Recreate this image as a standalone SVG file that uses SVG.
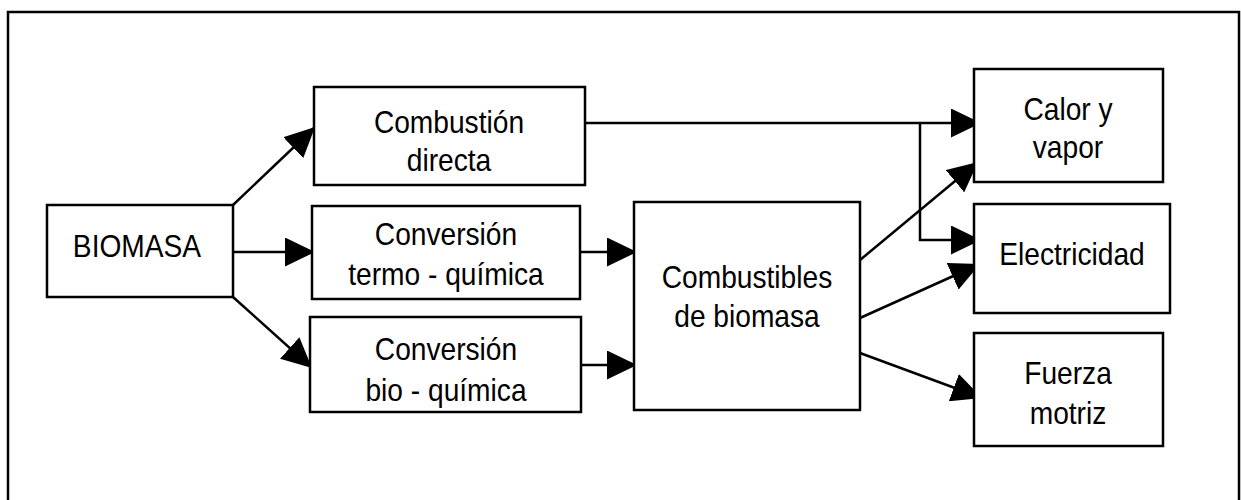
<svg xmlns="http://www.w3.org/2000/svg" width="1241" height="500" viewBox="0 0 1241 500">
  <style>
    .box { fill: #fff; stroke: #000; stroke-width: 2.5; }
    .lbl { font-family: "Liberation Sans", Arial, sans-serif; font-size: 32px; fill: #000; text-anchor: middle; }
    .con { fill: none; stroke: #000; stroke-width: 2.5; marker-end: url(#arr); }
  </style>
  <defs>
    <marker id="arr" viewBox="0 0 30 29" refX="30" refY="14.5" markerWidth="30" markerHeight="29" markerUnits="userSpaceOnUse" orient="auto">
      <path d="M0,0 L30,14.5 L0,29 z" fill="#000"/>
    </marker>
  </defs>
  <rect x="8" y="12" width="1231" height="500" fill="#fff" stroke="#000" stroke-width="2.5"/>
  <g id="connectors">
    <line class="con" x1="233" y1="205" x2="315" y2="127"/>
    <line class="con" x1="233" y1="252" x2="315" y2="252"/>
    <line class="con" x1="233" y1="297" x2="312" y2="368"/>
    <line class="con" x1="580" y1="252" x2="637" y2="252"/>
    <line class="con" x1="581" y1="365" x2="637" y2="365"/>
    <line class="con" x1="585" y1="123" x2="981" y2="123"/>
    <polyline class="con" points="920,123 920,240 981,240"/>
    <line class="con" x1="860" y1="260" x2="978" y2="162"/>
    <line class="con" x1="860" y1="318" x2="980" y2="264"/>
    <line class="con" x1="860" y1="353" x2="982" y2="398"/>
  </g>
  <g id="biomasa">
    <rect class="box" x="47" y="205" width="186" height="92"/>
    <text class="lbl" x="137" y="257" transform="matrix(0.88,0,0,1,16.44,0)">BIOMASA</text>
  </g>
  <g id="combustion-directa">
    <rect class="box" x="314" y="87" width="271" height="98"/>
    <text class="lbl" x="449" y="133" transform="matrix(0.88,0,0,1,53.88,0)">Combustión</text>
    <text class="lbl" x="449" y="171" transform="matrix(0.88,0,0,1,53.88,0)">directa</text>
  </g>
  <g id="conversion-termo">
    <rect class="box" x="312" y="206" width="268" height="93"/>
    <text class="lbl" x="446" y="245" transform="matrix(0.88,0,0,1,53.52,0)">Conversión</text>
    <text class="lbl" x="446" y="285" transform="matrix(0.88,0,0,1,53.52,0)">termo - química</text>
  </g>
  <g id="conversion-bio">
    <rect class="box" x="310" y="317" width="271" height="95"/>
    <text class="lbl" x="446" y="360" transform="matrix(0.88,0,0,1,53.52,0)">Conversión</text>
    <text class="lbl" x="446" y="401" transform="matrix(0.88,0,0,1,53.52,0)">bio - química</text>
  </g>
  <g id="combustibles">
    <rect class="box" x="634" y="202" width="226" height="208"/>
    <text class="lbl" x="747" y="288" transform="matrix(0.88,0,0,1,89.64,0)">Combustibles</text>
    <text class="lbl" x="747" y="327" transform="matrix(0.88,0,0,1,89.64,0)">de biomasa</text>
  </g>
  <g id="calor">
    <rect class="box" x="974" y="69" width="189" height="113"/>
    <text class="lbl" x="1068" y="120" transform="matrix(0.88,0,0,1,128.16,0)">Calor y</text>
    <text class="lbl" x="1068" y="158" transform="matrix(0.88,0,0,1,128.16,0)">vapor</text>
  </g>
  <g id="electricidad">
    <rect class="box" x="974" y="204" width="196" height="109"/>
    <text class="lbl" x="1072" y="265" transform="matrix(0.88,0,0,1,128.64,0)">Electricidad</text>
  </g>
  <g id="fuerza">
    <rect class="box" x="974" y="333" width="189" height="113"/>
    <text class="lbl" x="1068" y="384" transform="matrix(0.88,0,0,1,128.16,0)">Fuerza</text>
    <text class="lbl" x="1068" y="424" transform="matrix(0.88,0,0,1,128.16,0)">motriz</text>
  </g>
</svg>
